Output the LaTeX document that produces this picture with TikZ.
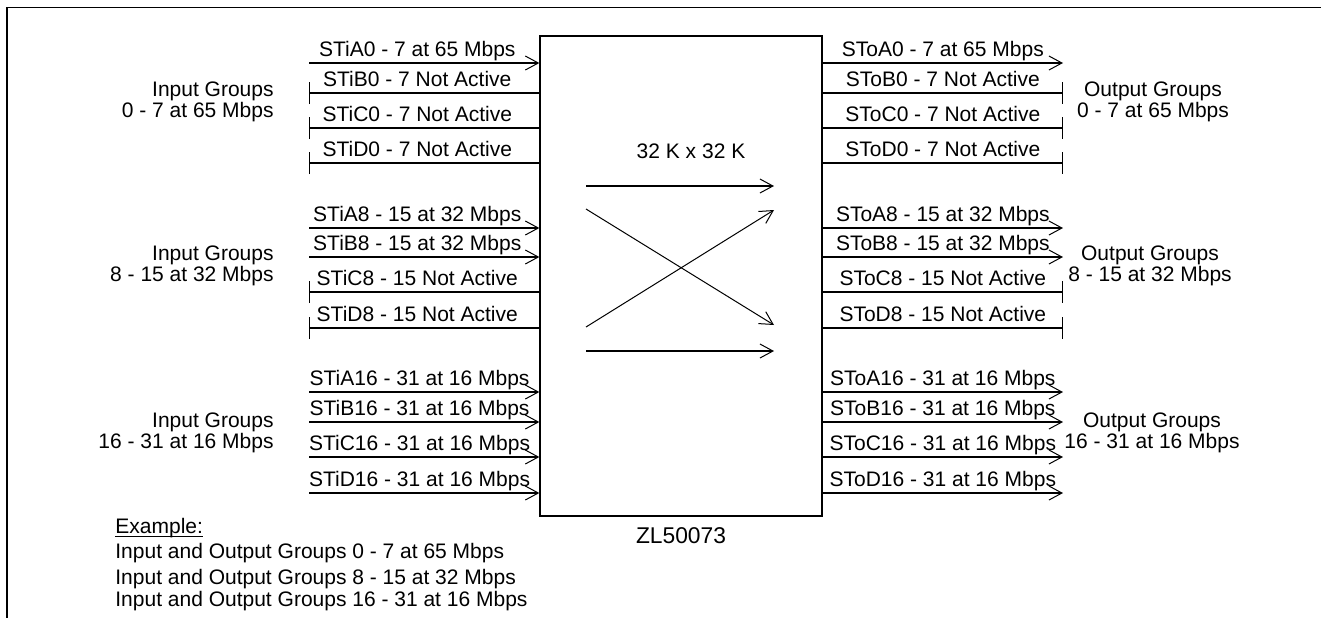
\documentclass[tikz,border=0pt]{standalone}
\usepackage{fontspec}
\setmainfont{Liberation Sans}
\usetikzlibrary{arrows.meta}

\begin{document}
\begin{tikzpicture}[
  x=0.5pt, y=-0.5pt,
  font=\fontsize{10.5}{10.6}\selectfont,
  chipbox/.style={draw, line width=0.65pt, inner sep=0pt, minimum width=141pt, minimum height=240pt},
  frame/.style={line width=0.9pt},
  sig/.style={line width=0.65pt},
  act/.style={sig, -{Straight Barb[length=6.5pt, width=7pt, line width=0.5pt]}},
  offin/.style={sig, {Bar[width=11pt]}-},
  offout/.style={sig, -{Bar[width=11pt]}},
  lbl/.style={anchor=base, yshift=3.5pt, inner sep=0pt},
  grpin/.style={align=right, anchor=east, inner sep=0pt},
  grpout/.style={align=center, inner sep=0pt},
  sw/.style={line width=0.85pt, -{Straight Barb[length=6.5pt, width=7pt, line width=0.5pt]}},
  swx/.style={line width=0.5pt, -{Straight Barb[length=6.5pt, width=7pt, line width=0.5pt]}},
  txt/.style={anchor=base, inner sep=0pt},
  ex/.style={anchor=base west, inner sep=0pt},
]
\useasboundingbox (0,0) rectangle (1321,618);
\draw[frame] (1321,7.5) -- (7,7.5) -- (7,618);
% ================= SWITCH =================
\node[chipbox] (chip) at (681,276) {};
\node[txt] (size) at (691,158) {32 K x 32 K};
\node[txt, font=\fontsize{11.4}{12}\selectfont] (part) at (681,543) {ZL50073};
\coordinate (s1) at (586,186); \coordinate (t1) at (774,186);
\coordinate (s2) at (586,209); \coordinate (t2) at (774,325);
\coordinate (s3) at (586,327); \coordinate (t3) at (774,210);
\coordinate (s4) at (586,351); \coordinate (t4) at (774,351);
\draw[sw] (s1) -- (t1);
\draw[swx] (s2) -- (t2);
\draw[swx] (s3) -- (t3);
\draw[sw] (s4) -- (t4);
% ================= INPUTS =================
\coordinate (iA0) at (309,63);
\coordinate (iB0) at (309,93);
\coordinate (iC0) at (309,128);
\coordinate (iD0) at (309,163);
\coordinate (iA8) at (309,228);
\coordinate (iB8) at (309,257);
\coordinate (iC8) at (309,292);
\coordinate (iD8) at (309,328);
\coordinate (iA16) at (309,392);
\coordinate (iB16) at (309,422);
\coordinate (iC16) at (309,457);
\coordinate (iD16) at (309,493);
\draw[act] (iA0) -- node[lbl, pos=0.47]{STiA0 - 7 at 65 Mbps} (iA0 -| chip.west);
\draw[offin] (iB0) -- node[lbl, pos=0.47]{STiB0 - 7 Not Active} (iB0 -| chip.west);
\draw[offin] (iC0) -- node[lbl, pos=0.47]{STiC0 - 7 Not Active} (iC0 -| chip.west);
\draw[offin] (iD0) -- node[lbl, pos=0.47]{STiD0 - 7 Not Active} (iD0 -| chip.west);
\draw[act] (iA8) -- node[lbl, pos=0.47]{STiA8 - 15 at 32 Mbps} (iA8 -| chip.west);
\draw[act] (iB8) -- node[lbl, pos=0.47]{STiB8 - 15 at 32 Mbps} (iB8 -| chip.west);
\draw[offin] (iC8) -- node[lbl, pos=0.47]{STiC8 - 15 Not Active} (iC8 -| chip.west);
\draw[offin] (iD8) -- node[lbl, pos=0.47]{STiD8 - 15 Not Active} (iD8 -| chip.west);
\draw[act] (iA16) -- node[lbl, pos=0.48]{STiA16 - 31 at 16 Mbps} (iA16 -| chip.west);
\draw[act] (iB16) -- node[lbl, pos=0.48]{STiB16 - 31 at 16 Mbps} (iB16 -| chip.west);
\draw[act] (iC16) -- node[lbl, pos=0.48]{STiC16 - 31 at 16 Mbps} (iC16 -| chip.west);
\draw[act] (iD16) -- node[lbl, pos=0.48]{STiD16 - 31 at 16 Mbps} (iD16 -| chip.west);
\node[grpin] (gi1) at (274,102) {Input Groups\\0 - 7 at 65 Mbps};
\node[grpin] (gi2) at (274,266) {Input Groups\\8 - 15 at 32 Mbps};
\node[grpin] (gi3) at (274,433) {Input Groups\\16 - 31 at 16 Mbps};
% ================= OUTPUTS =================
\coordinate (oA0) at (1063,63);
\coordinate (oB0) at (1063,93);
\coordinate (oC0) at (1063,128);
\coordinate (oD0) at (1063,163);
\coordinate (oA8) at (1063,228);
\coordinate (oB8) at (1063,257);
\coordinate (oC8) at (1063,292);
\coordinate (oD8) at (1063,328);
\coordinate (oA16) at (1063,392);
\coordinate (oB16) at (1063,422);
\coordinate (oC16) at (1063,457);
\coordinate (oD16) at (1063,493);
\draw[act] (oA0 -| chip.east) -- node[lbl]{SToA0 - 7 at 65 Mbps} (oA0);
\draw[offout] (oB0 -| chip.east) -- node[lbl]{SToB0 - 7 Not Active} (oB0);
\draw[offout] (oC0 -| chip.east) -- node[lbl]{SToC0 - 7 Not Active} (oC0);
\draw[offout] (oD0 -| chip.east) -- node[lbl]{SToD0 - 7 Not Active} (oD0);
\draw[act] (oA8 -| chip.east) -- node[lbl]{SToA8 - 15 at 32 Mbps} (oA8);
\draw[act] (oB8 -| chip.east) -- node[lbl]{SToB8 - 15 at 32 Mbps} (oB8);
\draw[offout] (oC8 -| chip.east) -- node[lbl]{SToC8 - 15 Not Active} (oC8);
\draw[offout] (oD8 -| chip.east) -- node[lbl]{SToD8 - 15 Not Active} (oD8);
\draw[act] (oA16 -| chip.east) -- node[lbl]{SToA16 - 31 at 16 Mbps} (oA16);
\draw[act] (oB16 -| chip.east) -- node[lbl]{SToB16 - 31 at 16 Mbps} (oB16);
\draw[act] (oC16 -| chip.east) -- node[lbl]{SToC16 - 31 at 16 Mbps} (oC16);
\draw[act] (oD16 -| chip.east) -- node[lbl]{SToD16 - 31 at 16 Mbps} (oD16);
\node[grpout] (go1) at (1153,102) {Output Groups\\0 - 7 at 65 Mbps};
\node[grpout] (go2) at (1150,266) {Output Groups\\8 - 15 at 32 Mbps};
\node[grpout] (go3) at (1152,433) {Output Groups\\16 - 31 at 16 Mbps};
% ================= EXAMPLE =================
\node[ex] (ex0) at (115,533) {\underline{Exam\smash{p}le:}};
\node[ex] (ex1) at (115,558) {Input and Output Groups 0 - 7 at 65 Mbps};
\node[ex] (ex2) at (115,584) {Input and Output Groups 8 - 15 at 32 Mbps};
\node[ex] (ex3) at (115,606) {Input and Output Groups 16 - 31 at 16 Mbps};
\end{tikzpicture}
\end{document}
